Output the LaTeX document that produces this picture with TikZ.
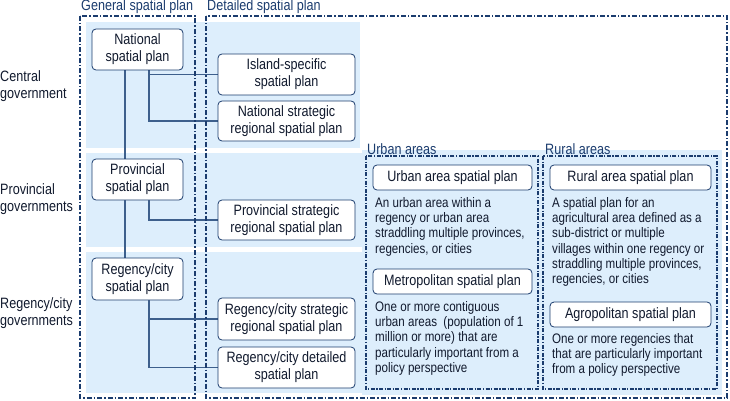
\documentclass[tikz,border=0pt]{standalone}
\usepackage{fontspec}
\usetikzlibrary{backgrounds}
\setmainfont[FakeStretch=0.84]{Liberation Sans}
\begin{document}
\definecolor{navy}{HTML}{1B3C6E}
\definecolor{band}{HTML}{DDEEFC}
\definecolor{txt}{HTML}{111A2E}
\definecolor{lnk}{HTML}{3D5F8C}
\tikzset{
  plan/.style={draw=navy,line width=0.8pt,rounded corners=4pt,fill=white,align=center,font=\fontsize{15}{17}\selectfont,text=txt,inner sep=0pt},
  dd/.style={draw=navy,line width=1.4pt,dash pattern=on 5pt off 2pt on 1.5pt off 2pt},
  ddt/.style={draw=navy,line width=1.2pt,dash pattern=on 4pt off 1.5pt on 1.2pt off 1.5pt},
  hdr/.style={anchor=south west,text=navy,font=\fontsize{15}{16}\selectfont,inner sep=0pt},
  desc/.style={anchor=north west,align=left,text=txt,font=\fontsize{13.8}{15.3}\selectfont,inner sep=0pt},
  row/.style={anchor=west,align=left,text=txt,font=\fontsize{15}{16.5}\selectfont,inner sep=0pt},
  conn/.style={draw=lnk,line width=1.1pt}
}
\begin{tikzpicture}[x=1pt,y=-1pt]
\useasboundingbox (0,0) rectangle (730,401);
\draw[dd] (80,16) rectangle (195,398);
\draw[dd] (206,16) rectangle (727,398);
\draw[ddt] (366,156) rectangle (538,389);
\draw[ddt] (543,156) rectangle (717,389);
\node[hdr] (hg) at (81,14) {General spatial plan};
\node[hdr] (hd) at (207,14) {Detailed spatial plan};
\node[hdr] (hu) at (367,155) {Urban areas};
\node[hdr] (hr) at (545,155) {Rural areas};
\node[row] (r1) at (0,86) {Central\\government};
\node[row] (r2) at (0,199) {Provincial\\governments};
\node[row] (r3) at (0,313) {Regency/city\\governments};
\node[plan,minimum width=91pt,minimum height=41pt] (nat) at (137.5,49.5) {National\\spatial plan};
\node[plan,minimum width=137pt,minimum height=41pt] (isl) at (286.5,74.5) {Island-specific\\spatial plan};
\node[plan,minimum width=137pt,minimum height=40pt] (nsr) at (286.5,121) {National strategic\\regional spatial plan};
\node[plan,minimum width=91pt,minimum height=41pt] (prov) at (137.5,179.5) {Provincial\\spatial plan};
\node[plan,minimum width=137pt,minimum height=40pt] (psr) at (286.5,220) {Provincial strategic\\regional spatial plan};
\node[plan,minimum width=91pt,minimum height=42pt] (reg) at (137.5,279) {Regency/city\\spatial plan};
\node[plan,minimum width=137pt,minimum height=42pt] (rsr) at (286.5,319) {Regency/city strategic\\regional spatial plan};
\node[plan,minimum width=137pt,minimum height=41pt] (rdp) at (286.5,367.5) {Regency/city detailed\\spatial plan};
\node[plan,minimum width=159pt,minimum height=25pt] (urb) at (452.5,177.5) {Urban area spatial plan};
\node[plan,minimum width=159pt,minimum height=25pt] (met) at (452.5,281.5) {Metropolitan spatial plan};
\node[plan,minimum width=161pt,minimum height=25pt] (rur) at (630.5,177.5) {Rural area spatial plan};
\node[plan,minimum width=161pt,minimum height=25pt] (agr) at (630.5,314.5) {Agropolitan spatial plan};
\node[desc] (d1) at (375,197) {An urban area within a\\regency or urban area\\straddling multiple provinces,\\regencies, or cities};
\node[desc] (d2) at (375,301) {One or more contiguous\\urban areas\ \ (population of 1\\million or more) that are\\particularly important from a\\policy perspective};
\node[desc] (d3) at (552,197) {A spatial plan for an\\agricultural area defined as a\\sub-district or multiple\\villages within one regency or\\straddling multiple provinces,\\regencies, or cities};
\node[desc] (d4) at (552,333) {One or more regencies that\\that are particularly important\\from a policy perspective};
\begin{scope}[on background layer]
\fill[band] (86,22) rectangle (360,148);
\fill[band] (86,153) rectangle (722,247);
\fill[band] (86,252) rectangle (722,393);
\fill[band] (362,150) rectangle (722,395);
\draw[conn] (nat.south -| 125,0) -- (reg.north -| 125,0);
\draw[conn] (nat.south -| 149,0) |- (isl.west);
\draw[conn] (nat.south -| 149,0) |- (nsr.west);
\draw[conn] (prov.south -| 149,0) |- (psr.west);
\draw[conn] (reg.south -| 149,0) |- (rsr.west);
\draw[conn] (reg.south -| 149,0) |- (rdp.west);
\end{scope}
\end{tikzpicture}
\end{document}
